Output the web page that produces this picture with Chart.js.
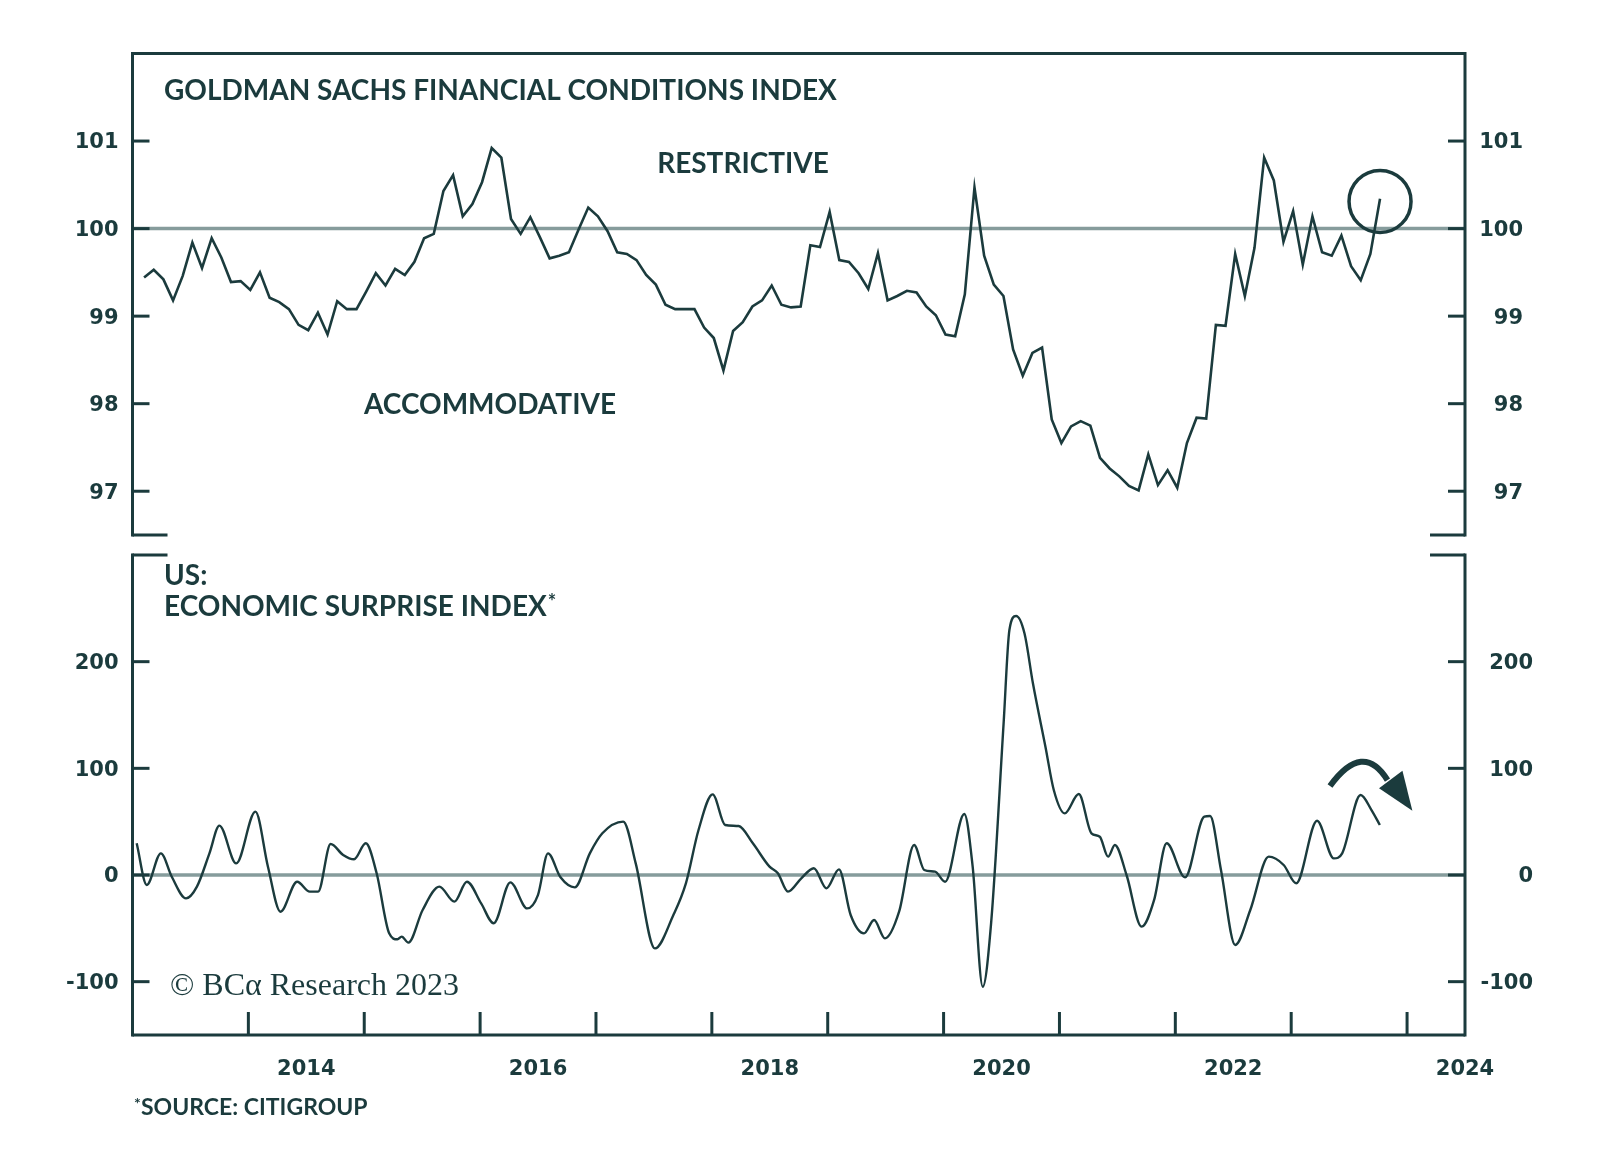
<!DOCTYPE html>
<html>
<head>
<meta charset="utf-8">
<script src="https://cdn.jsdelivr.net/npm/chart.js@4.4.1/dist/chart.umd.min.js"></script>
<style>
  html, body { margin: 0; background: #fff; }
  #wrap { position: relative; width: 1600px; height: 1154px; background: #fff; }
  canvas { position: absolute; left: 0; }
</style>
</head>
<body>
<div id="wrap">
  <canvas id="fciChart" width="1600" height="565" style="top:0;width:1600px;height:565px"></canvas>
  <canvas id="cesiChart" width="1600" height="634" style="top:520px;width:1600px;height:634px"></canvas>
</div>
<script>
// Goldman Sachs FCI, monthly, first point ~Feb 2013
var fciStart = 2013.1;
var fciValues = [
  99.44, 99.53, 99.42, 99.18, 99.46, 99.84, 99.55, 99.89, 99.67, 99.39, 99.40, 99.30,
  99.50, 99.21, 99.16, 99.08, 98.90, 98.84, 99.04, 98.79, 99.17, 99.08, 99.08, 99.28,
  99.49, 99.35, 99.54, 99.47, 99.62, 99.89, 99.94, 100.43, 100.61, 100.14, 100.28, 100.53,
  100.92, 100.81, 100.11, 99.94, 100.13, 99.90, 99.66, 99.69, 99.73, 99.99, 100.24, 100.14,
  99.97, 99.73, 99.71, 99.64, 99.47, 99.36, 99.13, 99.08, 99.08, 99.08, 98.87, 98.75,
  98.38, 98.83, 98.93, 99.11, 99.18, 99.35, 99.13, 99.10, 99.11, 99.81, 99.79, 100.19,
  99.64, 99.62, 99.49, 99.31, 99.72, 99.18, 99.23, 99.29, 99.27, 99.11, 99.01, 98.79,
  98.77, 99.25, 100.47, 99.69, 99.36, 99.23, 98.62, 98.32, 98.58, 98.64, 97.82, 97.55,
  97.74, 97.80, 97.75, 97.38, 97.26, 97.17, 97.06, 97.01, 97.42, 97.07, 97.24, 97.04,
  97.55, 97.84, 97.83, 98.90, 98.89, 99.71, 99.23, 99.78, 100.81, 100.55, 99.85, 100.20,
  99.59, 100.14, 99.73, 99.69, 99.92, 99.57, 99.41, 99.71, 100.34
];
var fciTicks = [97, 98, 99, 100, 101];

// Citi economic surprise index, read at turning points (decimal years)
var cesiDates = [
  2013.036, 2013.123, 2013.245, 2013.339, 2013.462, 2013.556, 2013.664, 2013.750, 2013.895,
  2014.061, 2014.169, 2014.277, 2014.421, 2014.530, 2014.602, 2014.710, 2014.818, 2014.912,
  2015.013, 2015.107, 2015.215, 2015.287, 2015.323, 2015.381, 2015.504, 2015.648, 2015.778, 2015.886,
  2016.009, 2016.117, 2016.261, 2016.406, 2016.499, 2016.586, 2016.694, 2016.817, 2016.947,
  2017.055, 2017.235, 2017.343, 2017.509, 2017.668, 2017.776, 2017.885,
  2018.007, 2018.115, 2018.231, 2018.354, 2018.498, 2018.570, 2018.657, 2018.772, 2018.880, 2018.989,
  2019.097, 2019.198, 2019.313, 2019.400, 2019.494, 2019.616, 2019.746, 2019.833, 2019.926,
  2020.013, 2020.179, 2020.251, 2020.338, 2020.410, 2020.518, 2020.568, 2020.626, 2020.698, 2020.771, 2020.879, 2020.951,
  2021.045, 2021.167, 2021.276, 2021.348, 2021.420, 2021.478, 2021.579, 2021.709, 2021.817, 2021.925,
  2022.084, 2022.250, 2022.300, 2022.394, 2022.517, 2022.647, 2022.806, 2022.935,
  2023.043, 2023.223, 2023.368, 2023.440, 2023.599, 2023.693, 2023.765
];
var cesiValues = [
  29.7, -9.4, 20.3, -1.6, -21.9, -10.9, 20.3, 46.3, 10.9,
  59.4, 7.8, -34.4, -6.3, -15.6, -15.6, 29.1, 18.8, 14.7,
  29.7, 1.6, -54.7, -60.3, -57.8, -63.4, -32.8, -10.9, -25.0, -6.3,
  -26.6, -45.3, -6.9, -31.3, -18.8, 20.3, -2.2, -11.6, 20.3,
  39.1, 50.0, 10.9, -68.8, -37.5, -7.8, 42.2,
  75.6, 46.9, 45.9, 29.7, 7.8, 1.6, -15.6, -3.1, 6.3, -12.5,
  5.3, -37.5, -54.7, -42.2, -59.4, -34.4, 28.1, 4.7, 3.1,
  -6.3, 57.2, 7.8, -104.7, -45.3, 142.2, 229.7, 242.8, 226.6, 179.7, 120.3, 79.7,
  57.8, 75.9, 39.1, 35.9, 17.2, 28.1, 0, -48.4, -23.4, 29.7,
  -2.2, 54.7, 55.3, 4.7, -65.6, -32.8, 17.2, 9.4,
  -7.8, 50.9, 15.6, 20.3, 75.0, 60.9, 46.9
];
var cesiTicks = [-100, 0, 100, 200];

var yearTicks = [2014, 2015, 2016, 2017, 2018, 2019, 2020, 2021, 2022, 2023, 2024];
var yearLabels = [2014, 2016, 2018, 2020, 2022, 2024];

var X_MIN = 2013.0, X_MAX = 2024.5;
var INK = '#1b3b3d';
var REF = '#869c9c';
var FONT = 'Lato, "Open Sans", sans-serif';
var NUM_FONT = '"DejaVu Sans", sans-serif';

function fixedTicks(list){ return function(s){ s.ticks = list.map(function(v){ return {value: v}; }); }; }
function width(w){ return function(s){ s.width = w; }; }

function yAxis(pos, min, max, ticks, w){
  return {
    position: pos, min: min, max: max,
    afterBuildTicks: fixedTicks(ticks),
    afterFit: width(w),
    grid: { display: false, drawTicks: false },
    border: { display: false },
    ticks: { padding: 14, labelOffset: 2, crossAlign: pos === 'right' ? 'far' : 'near',
             color: INK, font: { family: NUM_FONT, size: 21, weight: 'bold' } }
  };
}

function line(ctx, x1, y1, x2, y2){ ctx.beginPath(); ctx.moveTo(x1, y1); ctx.lineTo(x2, y2); ctx.stroke(); }

// frame, inward ticks and the labels printed on the chart
var fciDeco = {
  id: 'fciDeco',
  afterDraw: function(chart){
    var ctx = chart.ctx, a = chart.chartArea, y = chart.scales.y, x = chart.scales.x;
    ctx.save();
    ctx.strokeStyle = INK; ctx.lineWidth = 3;
    line(ctx, a.left, a.top - 1.5, a.left, a.bottom + 1.5);
    line(ctx, a.right, a.top - 1.5, a.right, a.bottom + 1.5);
    line(ctx, a.left, a.top, a.right, a.top);
    line(ctx, a.left, a.bottom, a.left + 35, a.bottom);
    line(ctx, a.right - 35, a.bottom, a.right, a.bottom);
    fciTicks.forEach(function(v){
      var py = y.getPixelForValue(v);
      line(ctx, a.left, py, a.left + 17, py);
      line(ctx, a.right - 17, py, a.right, py);
    });
    // circle round the latest reading
    var last = fciValues.length - 1;
    ctx.lineWidth = 3.5;
    ctx.beginPath();
    ctx.arc(x.getPixelForValue(fciStart + last / 12), y.getPixelForValue(100.31), 31, 0, Math.PI * 2);
    ctx.stroke();

    ctx.fillStyle = INK;
    ctx.textBaseline = 'alphabetic';
    ctx.font = 'bold 28px ' + FONT;
    ctx.textAlign = 'left';
    ctx.fillText('GOLDMAN SACHS FINANCIAL CONDITIONS INDEX', 164, 100);
    ctx.textAlign = 'center';
    ctx.fillText('RESTRICTIVE', 743, 173);
    ctx.fillText('ACCOMMODATIVE', 490, 414);
    ctx.restore();
  }
};

var cesiDeco = {
  id: 'cesiDeco',
  afterDraw: function(chart){
    var ctx = chart.ctx, a = chart.chartArea, y = chart.scales.y, x = chart.scales.x;
    ctx.save();
    ctx.strokeStyle = INK; ctx.lineWidth = 3;
    line(ctx, a.left, a.top - 1.5, a.left, a.bottom + 1.5);
    line(ctx, a.right, a.top - 1.5, a.right, a.bottom + 1.5);
    line(ctx, a.left, a.bottom, a.right, a.bottom);
    line(ctx, a.left, a.top, a.left + 35, a.top);
    line(ctx, a.right - 35, a.top, a.right, a.top);
    cesiTicks.forEach(function(v){
      var py = y.getPixelForValue(v);
      line(ctx, a.left, py, a.left + 17, py);
      line(ctx, a.right - 17, py, a.right, py);
    });
    yearTicks.forEach(function(t){
      var px = x.getPixelForValue(t);
      line(ctx, px, a.bottom, px, a.bottom - 23);
    });

    // curved arrow pointing down
    function P(t, v){ return [x.getPixelForValue(t), y.getPixelForValue(v)]; }
    var s = P(2023.335, 83.4), c = P(2023.620, 126.1), e = P(2023.831, 89.0);
    var h1 = P(2023.758, 81.3), h2 = P(2023.960, 97.8), tip = P(2024.046, 60.3);
    ctx.lineWidth = 6;
    ctx.beginPath(); ctx.moveTo(s[0], s[1]); ctx.quadraticCurveTo(c[0], c[1], e[0], e[1]); ctx.stroke();
    ctx.fillStyle = INK;
    ctx.beginPath(); ctx.moveTo(h1[0], h1[1]); ctx.lineTo(h2[0], h2[1]); ctx.lineTo(tip[0], tip[1]); ctx.closePath(); ctx.fill();

    ctx.textBaseline = 'alphabetic';
    ctx.textAlign = 'left';
    ctx.font = 'bold 28px ' + FONT;
    ctx.fillText('US:', 164, 65);
    var label = 'ECONOMIC SURPRISE INDEX';
    ctx.fillText(label, 164, 96);
    var w = ctx.measureText(label).width;
    ctx.font = 'bold 20px ' + FONT;
    ctx.fillText('*', 164 + w + 1, 89);

    ctx.font = '32px "Liberation Serif", "DejaVu Serif", serif';
    ctx.fillText('\u00A9 BC\u03B1 Research 2023', 170, 475);

    ctx.font = 'bold 16px ' + FONT;
    ctx.fillText('*', 134, 589);
    ctx.font = 'bold 23px ' + FONT;
    ctx.fillText('SOURCE: CITIGROUP', 141, 595);
    ctx.restore();
  }
};

var common = { responsive: false, animation: false, events: [],
  plugins: { legend: { display: false }, tooltip: { enabled: false } } };

new Chart(document.getElementById('fciChart'), {
  type: 'line',
  data: { datasets: [
    { data: fciValues.map(function(v, i){ return { x: fciStart + i / 12, y: v }; }),
      borderColor: INK, borderWidth: 2.6, pointRadius: 0, tension: 0, order: 0 },
    { data: [{ x: X_MIN, y: 100 }, { x: X_MAX, y: 100 }],
      borderColor: REF, borderWidth: 3.5, pointRadius: 0, order: 1 }
  ]},
  options: Object.assign({}, common, {
    layout: { padding: { top: 53.5, bottom: 30, left: 0, right: 77 } },
    scales: {
      x: { type: 'linear', min: X_MIN, max: X_MAX, display: false },
      y: yAxis('left', 96.5, 102, fciTicks, 132.5),
      y2: yAxis('right', 96.5, 102, fciTicks, 58)
    }
  }),
  plugins: [fciDeco]
});

new Chart(document.getElementById('cesiChart'), {
  type: 'line',
  data: { datasets: [
    { data: cesiValues.map(function(v, i){ return { x: cesiDates[i], y: v }; }),
      borderColor: INK, borderWidth: 2.4, pointRadius: 0, cubicInterpolationMode: 'monotone', order: 0 },
    { data: [{ x: X_MIN, y: 0 }, { x: X_MAX, y: 0 }],
      borderColor: REF, borderWidth: 3.5, pointRadius: 0, order: 1 }
  ]},
  options: Object.assign({}, common, {
    layout: { padding: { top: 35, bottom: 59, left: 0, right: 67 } },
    scales: {
      x: { type: 'linear', min: X_MIN, max: X_MAX,
           afterBuildTicks: fixedTicks(yearLabels.map(function(yv){ return yv + 0.5; })),
           afterFit: function(s){ s.height = 60; },
           grid: { display: false, drawTicks: false }, border: { display: false },
           ticks: { padding: 22, autoSkip: false, maxRotation: 0, color: INK,
                    font: { family: NUM_FONT, size: 21, weight: 'bold' },
                    callback: function(v){ return String(Math.floor(v)); } } },
      y: yAxis('left', -150, 300, cesiTicks, 132.5),
      y2: yAxis('right', -150, 300, cesiTicks, 68)
    }
  }),
  plugins: [cesiDeco]
});
</script>
</body>
</html>
